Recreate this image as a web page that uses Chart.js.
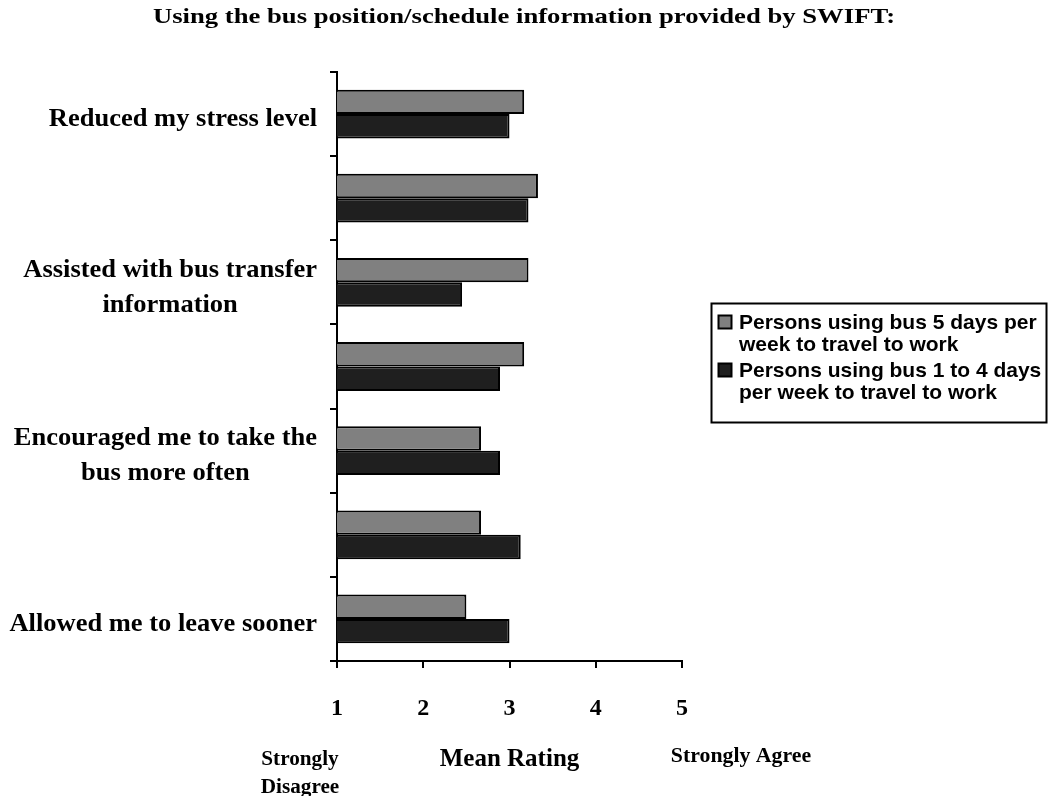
<!DOCTYPE html>
<html>
<head>
<meta charset="utf-8">
<script src="https://cdn.jsdelivr.net/npm/chart.js@4"></script>
<style>
  html, body { margin: 0; padding: 0; background: #fff; }
  #wrap { width: 1048px; height: 796px; }
</style>
</head>
<body>
<div id="wrap"><canvas id="myCanvas" width="1048" height="796"></canvas></div>
<script>
// categories, top to bottom (the unlabeled ones were skipped in the original)
var categories = [
	["Reduced my stress level"],
	[""],
	["Assisted with bus transfer", "information"],
	[""],
	["Encouraged me to take the", "bus more often"],
	[""],
	["Allowed me to leave sooner"]
];
var fiveDays = [3.17, 3.33, 3.22, 3.17, 2.67, 2.67, 2.5];
var oneToFourDays = [3.0, 3.22, 2.45, 2.89, 2.89, 3.13, 3.0];
var seriesNames = [
	["Persons using bus 5 days per", "week to travel to work"],
	["Persons using bus 1 to 4 days", "per week to travel to work"]
];
var xTicks = [1, 2, 3, 4, 5];
var chartTitle = "Using the bus position/schedule information provided by SWIFT:";

var serif = "'Liberation Serif', 'Times New Roman', serif";
var sans = "'Liberation Sans', Arial, sans-serif";

// text drawn a little wider than the font, like the original
function drawText(ctx, text, x, y, sx){
	ctx.save();
	ctx.translate(x, y);
	ctx.scale(sx, 1);
	ctx.fillText(text, 0, 0);
	ctx.restore();
}

// y labels: block right aligned, lines centred inside the block
var yLabelPlugin = {
	id: "yLabels",
	afterDraw: function(chart){
		var ctx = chart.ctx;
		var y = chart.scales.y;
		var sx = 1.06;
		ctx.save();
		ctx.font = "bold 25px " + serif;
		ctx.fillStyle = "#000";
		ctx.textAlign = "center";
		ctx.textBaseline = "alphabetic";
		var right = y.right - 20;
		for(var i = 0; i < categories.length; i++){
			var lines = categories[i];
			var w = 0;
			for(var j in lines) w = Math.max(w, ctx.measureText(lines[j]).width * sx);
			var cy = y.getPixelForValue(i);
			var lh = 35;
			var start = cy + 12.3 - (lines.length - 1) * lh / 2;
			for(var j = 0; j < lines.length; j++){
				drawText(ctx, lines[j], right - w / 2, start + j * lh, sx);
			}
		}
		ctx.restore();
	}
};

var extrasPlugin = {
	id: "extras",
	afterDraw: function(chart){
		var ctx = chart.ctx;
		var x = chart.scales.x;
		ctx.save();
		ctx.fillStyle = "#000";
		ctx.textAlign = "center";

		// title
		ctx.font = "bold 21px " + serif;
		ctx.textBaseline = "alphabetic";
		drawText(ctx, chartTitle, chart.width / 2, 23, 1.27);

		ctx.textBaseline = "middle";
		ctx.font = "bold 20px " + serif;
		var x1 = x.getPixelForValue(1);
		var x5 = x.getPixelForValue(5);
		drawText(ctx, "Strongly", x1 - 37, 760, 1.06);
		drawText(ctx, "Disagree", x1 - 37, 788, 1.06);
		drawText(ctx, "Strongly Agree", x5 + 59, 757, 1.09);

		// legend
		var bx = 711.5, by = 303.5, bw = 335, bh = 119;
		ctx.lineWidth = 2;
		ctx.strokeStyle = "#000";
		ctx.strokeRect(bx, by, bw, bh);
		ctx.font = "bold 21px " + sans;
		ctx.textAlign = "left";
		var ds = chart.data.datasets;
		var rowY = [322, 370];
		for(var i = 0; i < ds.length; i++){
			ctx.fillStyle = ds[i].backgroundColor;
			ctx.fillRect(718.5, rowY[i] - 6.5, 13, 13);
			ctx.lineWidth = 2;
			ctx.strokeRect(718.5, rowY[i] - 6.5, 13, 13);
			ctx.fillStyle = "#000";
			ctx.fillText(ds[i].label[0], 739, rowY[i] + 1);
			ctx.fillText(ds[i].label[1], 739, rowY[i] + 23);
		}
		ctx.restore();
	}
};

var chartdata = {
	labels: categories,
	datasets: [
		{
			label: seriesNames[0],
			backgroundColor: "#808080",
			borderColor: "#000",
			borderWidth: 2,
			categoryPercentage: 0.58,
			barPercentage: 1.0,
			data: fiveDays
		},
		{
			label: seriesNames[1],
			backgroundColor: "#1f1f1f",
			borderColor: "#000",
			borderWidth: 2,
			categoryPercentage: 0.58,
			barPercentage: 1.0,
			data: oneToFourDays
		}
	]
};

var ctx = document.getElementById("myCanvas");

var barGraph = new Chart(ctx, {
	type: "bar",
	data: chartdata,
	plugins: [yLabelPlugin, extrasPlugin],
	options: {
		indexAxis: "y",
		responsive: false,
		animation: false,
		layout: { padding: { left: 0, right: 366, top: 72, bottom: 0 } },
		plugins: {
			legend: { display: false },
			tooltip: { enabled: false },
			title: { display: false }
		},
		scales: {
			x: {
				min: 1,
				max: 5,
				afterBuildTicks: function(axis){
					axis.ticks = xTicks.map(function(v){ return { value: v }; });
				},
				afterFit: function(axis){ axis.height = 135; },
				border: { color: "#000", width: 2 },
				grid: { drawOnChartArea: false, color: "#000", lineWidth: 2, tickLength: 7 },
				ticks: {
					color: "#000",
					padding: 26,
					font: { family: serif, size: 24, weight: "bold" }
				},
				title: {
					display: true,
					text: "Mean Rating",
					color: "#000",
					font: { family: serif, size: 25, weight: "bold" },
					padding: { top: 0, bottom: 21 }
				}
			},
			y: {
				afterFit: function(axis){ axis.width = 337; },
				border: { color: "#000", width: 2 },
				grid: { drawOnChartArea: false, color: "#000", lineWidth: 2, tickLength: 7, offset: true },
				ticks: { display: false }
			}
		}
	}
});
</script>
</body>
</html>
